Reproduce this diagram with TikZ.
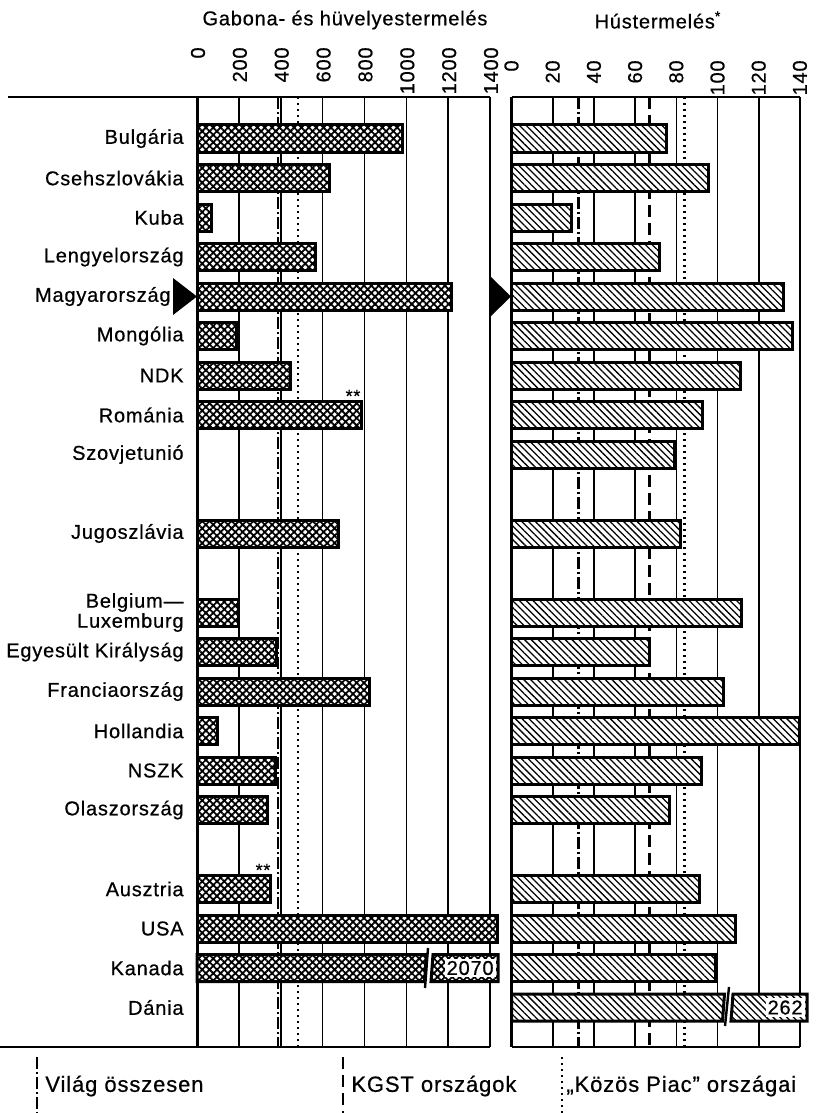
\documentclass[tikz,border=0pt]{standalone}
\usepackage{fontspec}
\setmainfont{Liberation Sans}[LetterSpace=4, FakeBold=0.6]
\usetikzlibrary{patterns.meta}

\begin{document}
\begin{tikzpicture}[x=0.5pt, y=-0.5pt,
every node/.style = {inner sep=0pt, font=\fontsize{10}{10}\selectfont},
grid/.style = {line width=0.8pt},
axis/.style = {line width=1.5pt},
vilag/.style = {line width=1.2pt, dash pattern=on 6pt off 1.5pt on 1pt off 1.5pt},
kgst/.style = {line width=1.2pt, dash pattern=on 6pt off 3pt},
piac/.style = {line width=1.2pt, dash pattern=on 1pt off 2pt},
gbar/.style = {line width=1.5pt, preaction={fill=white},
	pattern={Hatch[angle=45,distance=2.6pt,line width=0.9pt]}},
hbar/.style = {line width=1.5pt, preaction={fill=white},
	pattern={Lines[angle=-45,distance=2.4pt,line width=0.65pt]}}]
	\useasboundingbox (0,0) rectangle (818,1113);
	% titles and scales
	\node (gtitle) at (345,20) {Gabona- és hüvelyestermelés};
	\node (htitle) at (658,20) {Hústermelés\textsuperscript{*}};
	\foreach \v in {0,200,...,1400}
		\node[rotate=90, anchor=east] (gt\v) at (198+0.2093*\v,47) {\v};
	\foreach \v in {0,20,...,140}
		\node[rotate=90, anchor=east] (ht\v) at (511.5+2.06*\v,60) {\v};
	% frames
	\draw[grid] (8,97) -- (490,97);
	\draw[grid] (0,1047) -- (490,1047);
	\draw[grid] (511.5,97) -- (800,97);
	\draw[grid] (511.5,1047) -- (800,1047);
	\foreach \v in {200,400,...,1400}
		\draw[grid] (197+0.2093*\v,97) -- ++(0,950);
	\foreach \v in {20,40,...,140}
		\draw[grid] (511.5+2.06*\v,97) -- ++(0,950);
	\draw[vilag] (278,97) -- (278,1047);
	\draw[piac] (298,97) -- (298,1047);
	\draw[vilag] (578.5,97) -- (578.5,1047);
	\draw[kgst] (649.5,97) -- (649.5,1047);
	\draw[piac] (684.5,97) -- (684.5,1047);
	\draw[axis] (197,97) -- (197,1047);
	\draw[axis] (511.5,97) -- (511.5,1047);
	% countries
	\foreach \i/\name in {0/Bulgária, 1/Csehszlovákia, 2/Kuba, 3/Lengyelország,
		5/Mongólia, 6/NDK, 7/Románia, 8/Szovjetunió,
		10/Jugoszlávia, 13/Egyesült Királyság, 14/Franciaország, 15/Hollandia,
		16/NSZK, 17/Olaszország, 19/Ausztria, 20/USA, 21/Kanada, 22/Dánia}
		\node[anchor=east] (c\i) at (184,138.5+39.5*\i) {\name};
	\node[anchor=east] (c4) at (171,296.5) {Magyarország};
	\node[anchor=east, align=right] (c12) at (184,612.5) {Belgium—\\Luxemburg};
	% bars
	\foreach \i/\gv/\hv in {0/980/75, 1/635/95.5, 2/67/29, 3/564/72, 4/1218/132,
		5/191/136.5, 6/449/111, 7/784/92.5, 10/678/82, 12/196/111.5, 13/382/67,
		14/826/103, 15/100/140, 16/377/92, 17/339/76.5, 19/353/91.5, 20/1438/108.5}
	{
		\draw[gbar] (197,125+39.5*\i) rectangle (197+0.2093*\gv,152+39.5*\i);
		\draw[hbar] (511.5,125+39.5*\i) rectangle (511.5+2.06*\hv,152+39.5*\i);
	}
	\draw[hbar] (511.5,441) rectangle (511.5+2.06*79,468);
	\draw[hbar] (511.5,954.5) rectangle (511.5+2.06*99,981.5);
	% broken bars
	\draw[gbar] (197,954.5) -- (426.5,954.5) -- (424.5,981.5) -- (197,981.5) -- cycle;
	\draw[gbar] (433,954.5) -- (498,954.5) -- (498,981.5) -- (431,981.5) -- cycle;
	\draw[line width=1.2pt] (428,948) -- (425,988);
	\node[fill=white, inner sep=1pt, anchor=east] (kanada) at (496,968) {2070};
	\draw[hbar] (511.5,994) -- (724.5,994) -- (722.5,1021) -- (511.5,1021) -- cycle;
	\draw[hbar] (733,994) -- (807,994) -- (807,1021) -- (731,1021) -- cycle;
	\draw[line width=1.2pt] (729,987) -- (725,1026);
	\node[fill=white, inner sep=1pt, anchor=east] (dania) at (805,1007.5) {262};
	% marks
	\node[font=\fontsize{9}{9}\selectfont] (ro) at (353,396) {**};
	\node[font=\fontsize{9}{9}\selectfont] (au) at (263,870) {**};
	\fill (173,278) -- (197,296.5) -- (173,315) -- cycle;
	\fill (490,276) -- (511,296.5) -- (490,317) -- cycle;
	% legend
	\draw[vilag, line width=1.4pt] (37,1057) -- (37,1113);
	\node[anchor=west, font=\fontsize{11}{11}\selectfont] (vilag) at (45,1086) {Világ összesen};
	\draw[kgst, line width=1.4pt] (343,1057) -- (343,1113);
	\node[anchor=west, font=\fontsize{11}{11}\selectfont] (kgst) at (351,1086) {KGST országok};
	\draw[piac, line width=1.4pt] (562,1057) -- (562,1113);
	\node[anchor=west, font=\fontsize{11}{11}\selectfont] (piac) at (566,1086) {„Közös Piac” országai};
\end{tikzpicture}
\end{document}
